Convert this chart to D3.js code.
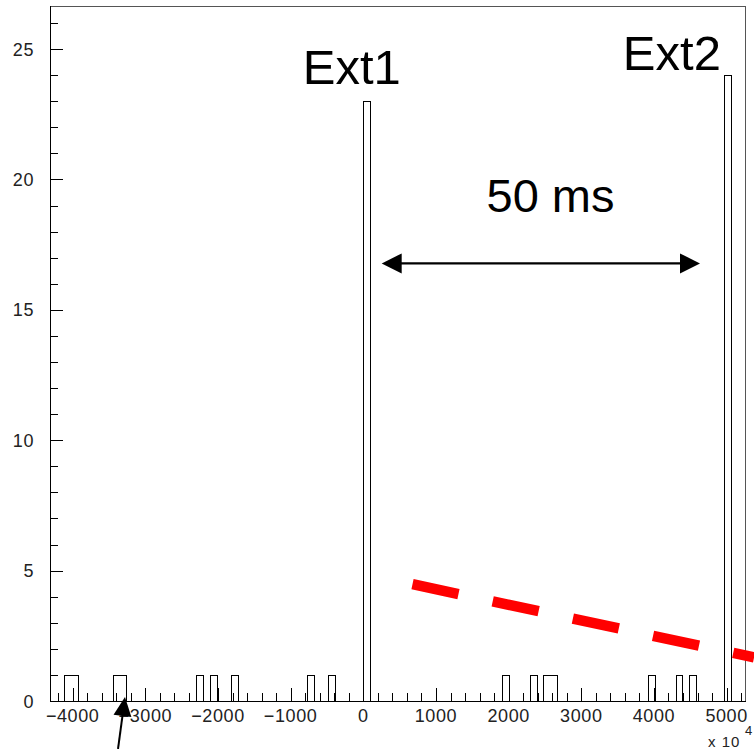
<!DOCTYPE html>
<html>
<head>
<meta charset="utf-8">
<script src="https://cdn.jsdelivr.net/npm/d3@7/dist/d3.min.js"></script>
<style>
  html, body { margin: 0; padding: 0; background: #fff; }
  svg { display: block; }
  text { font-family: "Liberation Sans", Arial, Helvetica, sans-serif; }
</style>
</head>
<body>
<script>
// ---- data ----
const xMin = -4312, xMax = 5253, nBins = 100;
const binIndex = [2, 3, 9, 10, 21, 23, 26, 37, 40, 45, 65, 69, 71, 72, 86, 90, 92, 97];
const binCount = [1, 1, 1, 1, 1, 1, 1, 1, 1, 23, 1, 1, 1, 1, 1, 1, 1, 24];
const xMajorTicks = [-4000, -3000, -2000, -1000, 0, 1000, 2000, 3000, 4000, 5000];
const xTickLabels = ["\u22124000", "\u22123000", "\u22122000", "\u22121000", "0", "1000", "2000", "3000", "4000", "5000"];
const yMajorTicks = [0, 5, 10, 15, 20, 25];
const yTickLabels = ["0", "5", "10", "15", "20", "25"];
const yMax = 26.65;
const peakLabels = ["Ext1", "Ext2"];
const peakLabelX = [-833, 3572];
const peakLabelY = [23.66, 24.19];
const spanLabel = "50 ms";
const spanLabelPos = [1696, 18.76];
const spanArrowX = [253, 4634];
const spanArrowY = 16.78;
const redLineX = [677, 5378];
const redLineY = [4.48, 1.67];
const markerArrowFrom = [-3376, -1.84];
const markerArrowTo = [-3280, 0.15];
const axisScaleLabel = "x 10";
const axisScaleExp = "4";

// ---- setup ----
const W = 754, H = 749;
const svg = d3.select("body").append("svg").attr("width", W).attr("height", H);

const x = d3.scaleLinear().domain([xMin, xMax]).range([50, 745]);
const y = d3.scaleLinear().domain([0, yMax]).range([701, 6]);

// frame (top/right)
svg.append("rect")
  .attr("x", x(xMin) + 0.5).attr("y", y(yMax) + 0.5)
  .attr("width", x(xMax) - x(xMin)).attr("height", y(0) - y(yMax))
  .attr("fill", "none").attr("stroke", "#555").attr("stroke-width", 1)
  .attr("shape-rendering", "crispEdges");

// histogram outline
const counts = new Array(nBins).fill(0);
binIndex.forEach((b, i) => counts[b] = binCount[i]);
const bw = (xMax - xMin) / nBins;
const pts = counts.map((c, i) => [xMin + i * bw, c]);
pts.push([xMax, counts[nBins - 1]]);
const histLine = d3.line()
  .x(d => Math.round(x(d[0])) + 0.5)
  .y(d => Math.round(y(d[1])) + 0.5)
  .curve(d3.curveStepAfter);
svg.append("path")
  .attr("d", histLine(pts))
  .attr("fill", "none").attr("stroke", "#000").attr("stroke-width", 1)
  .attr("shape-rendering", "crispEdges");

// x axis
const xMinor = d3.range(-4200, 5253, 200).filter(v => v % 1000 !== 0);
const gx = svg.append("g").attr("shape-rendering", "crispEdges");
gx.append("line").attr("x1", 50).attr("x2", 745).attr("y1", 701.5).attr("y2", 701.5)
  .attr("stroke", "#000");
gx.selectAll("line.maj").data(xMajorTicks).join("line")
  .attr("x1", d => Math.round(x(d)) + 0.5).attr("x2", d => Math.round(x(d)) + 0.5)
  .attr("y1", 701).attr("y2", 688).attr("stroke", "#000");
gx.selectAll("line.min").data(xMinor).join("line")
  .attr("x1", d => Math.round(x(d)) + 0.5).attr("x2", d => Math.round(x(d)) + 0.5)
  .attr("y1", 701).attr("y2", 693).attr("stroke", "#000");
svg.append("g").selectAll("text").data(xMajorTicks).join("text")
  .attr("x", d => x(d)).attr("y", 722)
  .attr("text-anchor", "middle")
  .attr("font-size", 18).attr("letter-spacing", "0.6px")
  .attr("fill", "#222")
  .text((d, i) => xTickLabels[i]);

// y axis
const yMinor = d3.range(1, 27, 1).filter(v => v % 5 !== 0);
const gy = svg.append("g").attr("shape-rendering", "crispEdges");
gy.append("line").attr("x1", 50.5).attr("x2", 50.5).attr("y1", 6).attr("y2", 701)
  .attr("stroke", "#000");
gy.selectAll("line.maj").data(yMajorTicks).join("line")
  .attr("x1", 50).attr("x2", 63)
  .attr("y1", d => Math.round(y(d)) + 0.5).attr("y2", d => Math.round(y(d)) + 0.5)
  .attr("stroke", "#000");
gy.selectAll("line.min").data(yMinor).join("line")
  .attr("x1", 50).attr("x2", 58)
  .attr("y1", d => Math.round(y(d)) + 0.5).attr("y2", d => Math.round(y(d)) + 0.5)
  .attr("stroke", "#000");
svg.append("g").selectAll("text").data(yMajorTicks).join("text")
  .attr("x", 34).attr("y", d => y(d) + 6.5)
  .attr("text-anchor", "end")
  .attr("font-size", 18).attr("letter-spacing", "0.6px")
  .attr("fill", "#222")
  .text((d, i) => yTickLabels[i]);

// axis multiplier
svg.append("text").attr("x", 708).attr("y", 746.5)
  .attr("font-size", 15).attr("letter-spacing", "1px").attr("fill", "#222")
  .text(axisScaleLabel);
svg.append("text").attr("x", 745).attr("y", 735)
  .attr("font-size", 13).attr("fill", "#222")
  .text(axisScaleExp);

// peak labels
svg.append("g").selectAll("text").data(peakLabels).join("text")
  .attr("x", (d, i) => x(peakLabelX[i])).attr("y", (d, i) => y(peakLabelY[i]))
  .attr("font-size", 49).attr("fill", "#000")
  .text(d => d);

svg.append("text").attr("x", x(spanLabelPos[0])).attr("y", y(spanLabelPos[1]))
  .attr("font-size", 47).attr("fill", "#000").text(spanLabel);

// arrow helper
function arrowHead(tip, from, len, half) {
  const dx = tip[0] - from[0], dy = tip[1] - from[1];
  const L = Math.hypot(dx, dy), ux = dx / L, uy = dy / L;
  const bx = tip[0] - ux * len, by = tip[1] - uy * len;
  return [[tip[0], tip[1]], [bx - uy * half, by + ux * half], [bx + uy * half, by - ux * half]];
}

// double-headed span arrow
const a1 = [x(spanArrowX[0]), y(spanArrowY)], a2 = [x(spanArrowX[1]), y(spanArrowY)];
svg.append("line").attr("x1", a1[0] + 15).attr("x2", a2[0] - 15)
  .attr("y1", a1[1]).attr("y2", a2[1]).attr("stroke", "#000").attr("stroke-width", 2.2);
svg.append("polygon").attr("points", arrowHead(a1, a2, 20, 10).join(" ")).attr("fill", "#000");
svg.append("polygon").attr("points", arrowHead(a2, a1, 20, 10).join(" ")).attr("fill", "#000");

// red dashed line
svg.append("line")
  .attr("x1", x(redLineX[0])).attr("y1", y(redLineY[0]))
  .attr("x2", x(redLineX[1])).attr("y2", y(redLineY[1]))
  .attr("stroke", "#ff0000").attr("stroke-width", 10.5)
  .attr("stroke-dasharray", "47 35");

// marker arrow at bottom
const m1 = [x(markerArrowFrom[0]), y(markerArrowFrom[1])], m2 = [x(markerArrowTo[0]), y(markerArrowTo[1])];
svg.append("line").attr("x1", m1[0]).attr("y1", m1[1])
  .attr("x2", m2[0] - (m2[0] - m1[0]) * 0.25).attr("y2", m2[1] - (m2[1] - m1[1]) * 0.25)
  .attr("stroke", "#000").attr("stroke-width", 2);
svg.append("polygon").attr("points", arrowHead(m2, m1, 19, 9).join(" ")).attr("fill", "#000");
</script>
</body>
</html>
